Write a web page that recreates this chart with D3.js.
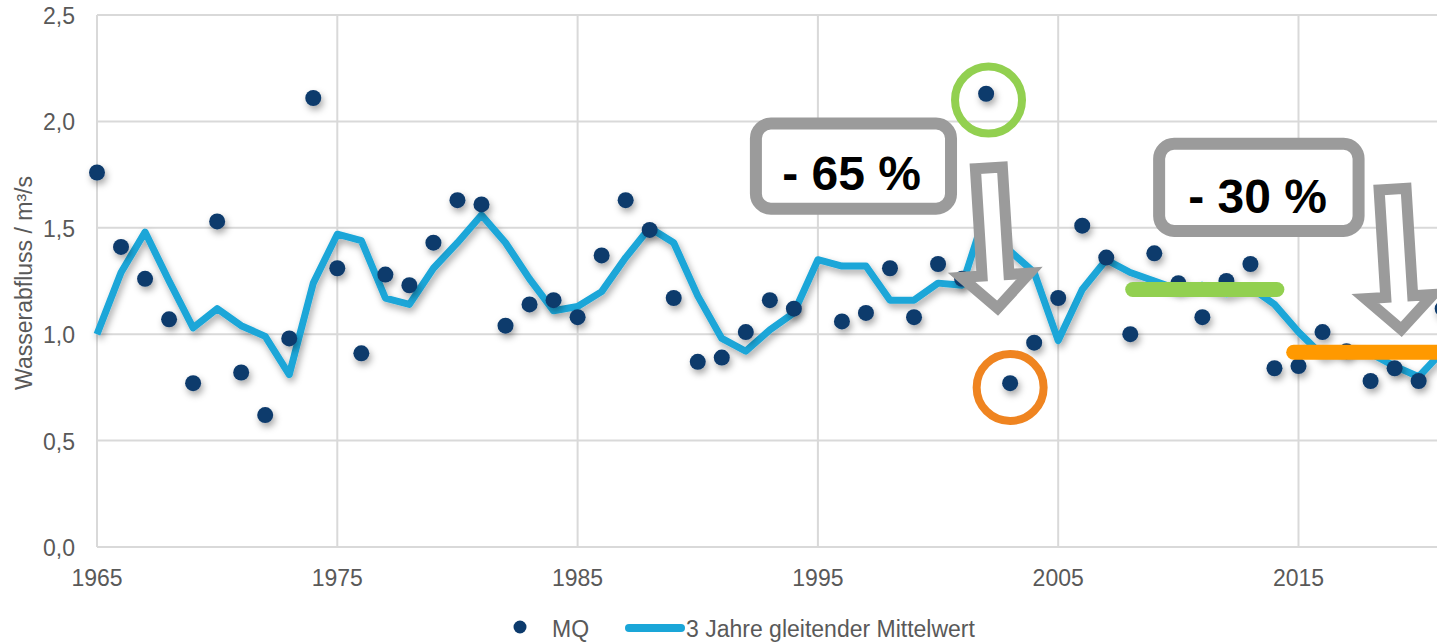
<!DOCTYPE html>
<html>
<head>
<meta charset="utf-8">
<script src="https://cdn.jsdelivr.net/npm/d3@7"></script>
<style>
  html, body { margin: 0; padding: 0; background: #fff; overflow: hidden; }
  svg { display: block; font-family: "Liberation Sans", Arial, sans-serif; }
</style>
</head>
<body>
<div id="chart"></div>
<script>
// data
var years = d3.range(1965, 2022);
var mq = [
  1.76, 1.41, 1.26, 1.07, 0.77, 1.53, 0.82, 0.62, 0.98, 2.11,
  1.31, 0.91, 1.28, 1.23, 1.43, 1.63, 1.61, 1.04, 1.14, 1.16,
  1.08, 1.37, 1.63, 1.49, 1.17, 0.87, 0.89, 1.01, 1.16, 1.12,
  null, 1.06, 1.10, 1.31, 1.08, 1.33, 1.26, 2.13, 0.77, 0.96,
  1.17, 1.51, 1.36, 1.00, 1.38, 1.24, 1.08, 1.25, 1.33, 0.84,
  0.85, 1.01, 0.92, 0.78, 0.84, 0.78, 1.12
];
var mittel = [
  1.00, 1.29, 1.48, 1.25, 1.03, 1.12, 1.04, 0.99, 0.81, 1.24,
  1.47, 1.44, 1.17, 1.14, 1.31, 1.43, 1.56, 1.43, 1.26, 1.11,
  1.13, 1.20, 1.36, 1.50, 1.43, 1.18, 0.98, 0.92, 1.02, 1.10,
  1.35, 1.32, 1.32, 1.16, 1.16, 1.24, 1.23, 1.58, 1.39, 1.29,
  0.97, 1.21, 1.35, 1.29, 1.25, 1.21, 1.23, 1.19, 1.22, 1.14,
  1.01, 0.90, 0.93, 0.91, 0.85, 0.80, 0.92
];
var xTicks = [1965, 1975, 1985, 1995, 2005, 2015];
var xGrid = [1965, 1975, 1985, 1995, 2005, 2015, 2025];
var yTicks = [0, 0.5, 1.0, 1.5, 2.0, 2.5];

// annotations in data units
var levels = [
  { from: 2008.1, to: 2014.1, value: 1.21, color: '#92d050' },
  { from: 2014.8, to: 2023, value: 0.915, color: '#ff9900' }
];
var rings = [
  { year: 2002.1, value: 2.10, color: '#92d050' },
  { year: 2003.0, value: 0.75, color: '#ef8420' }
];
var boxes = [
  { x0: 1992.42, x1: 2000.54, y0: 1.99, y1: 1.59, tx: 1996.4, ty: 1.678, label: '- 65 %' },
  { x0: 2009.2, x1: 2017.5, y0: 1.895, y1: 1.485, tx: 2013.3, ty: 1.57, label: '- 30 %' }
];
var arrows = [
  { x0: 2002.1, y0: 1.81, x1: 2002.5, y1: 1.08 },
  { x0: 2018.9, y0: 1.71, x1: 2019.3, y1: 0.98 }
];

var width = 1437, height = 642;
var x = d3.scaleLinear().domain([1965, 2025]).range([97, 97 + 60 * 24.03]);
var y = d3.scaleLinear().domain([0, 2.5]).range([547, 15]);
var fs = 23, textColor = '#595959';

var svg = d3.select('#chart').append('svg')
    .attr('width', width)
    .attr('height', height);

var defs = svg.append('defs');
var shadow = defs.append('filter').attr('id', 'shadow')
    .attr('x', '-20%').attr('y', '-20%').attr('width', '140%').attr('height', '140%');
shadow.append('feDropShadow')
    .attr('dx', 2).attr('dy', 4).attr('stdDeviation', 3.5)
    .attr('flood-color', '#000').attr('flood-opacity', 0.35);

// grid
svg.append('g').selectAll('line.h')
    .data(yTicks)
    .enter().append('line')
    .attr('x1', x(1965)).attr('x2', width)
    .attr('y1', function (d) { return y(d); })
    .attr('y2', function (d) { return y(d); })
    .attr('stroke', '#d9d9d9').attr('stroke-width', 2);

svg.append('g').selectAll('line.v')
    .data(xGrid)
    .enter().append('line')
    .attr('x1', function (d) { return x(d); })
    .attr('x2', function (d) { return x(d); })
    .attr('y1', y(2.5)).attr('y2', y(0))
    .attr('stroke', '#d9d9d9').attr('stroke-width', 2);

// tick labels
svg.append('g').selectAll('text')
    .data(yTicks)
    .enter().append('text')
    .attr('x', 75)
    .attr('y', function (d) { return y(d) + 9; })
    .attr('text-anchor', 'end')
    .attr('font-size', fs)
    .attr('fill', textColor)
    .text(function (d) { return d3.format('.1f')(d).replace('.', ','); });

svg.append('g').selectAll('text')
    .data(xTicks)
    .enter().append('text')
    .attr('x', function (d) { return x(d); })
    .attr('y', 586)
    .attr('text-anchor', 'middle')
    .attr('font-size', fs)
    .attr('fill', textColor)
    .text(function (d) { return d; });

svg.append('text')
    .attr('transform', 'translate(32,283) rotate(-90)')
    .attr('text-anchor', 'middle')
    .attr('font-size', fs)
    .attr('fill', textColor)
    .text('Wasserabfluss / m³/s');

// moving average
var line = d3.line()
    .defined(function (d) { return d[1] != null; })
    .x(function (d) { return x(d[0]); })
    .y(function (d) { return y(d[1]); });

svg.append('path')
    .datum(years.map(function (yr, i) { return [yr, mittel[i]]; }))
    .attr('d', line)
    .attr('fill', 'none')
    .attr('stroke', '#1aa6d8')
    .attr('stroke-width', 7)
    .attr('stroke-linejoin', 'round')
    .attr('filter', 'url(#shadow)');

// MQ points
svg.append('g').attr('filter', 'url(#shadow)')
    .selectAll('circle')
    .data(years.map(function (yr, i) { return [yr, mq[i]]; })
      .filter(function (d) { return d[1] != null; }))
    .enter().append('circle')
    .attr('cx', function (d) { return x(d[0]); })
    .attr('cy', function (d) { return y(d[1]); })
    .attr('r', 8)
    .attr('fill', '#0c3a6c');

// level bars
svg.append('g').selectAll('line')
    .data(levels)
    .enter().append('line')
    .attr('x1', function (d) { return x(d.from); })
    .attr('x2', function (d) { return x(d.to); })
    .attr('y1', function (d) { return y(d.value); })
    .attr('y2', function (d) { return y(d.value); })
    .attr('stroke', function (d) { return d.color; })
    .attr('stroke-width', 15)
    .attr('stroke-linecap', 'round');

// rings
svg.append('g').selectAll('circle')
    .data(rings)
    .enter().append('circle')
    .attr('cx', function (d) { return x(d.year); })
    .attr('cy', function (d) { return y(d.value); })
    .attr('r', 33.5)
    .attr('fill', 'none')
    .attr('stroke', function (d) { return d.color; })
    .attr('stroke-width', 8);

// boxes
var box = svg.append('g').selectAll('g')
    .data(boxes)
    .enter().append('g');

box.append('rect')
    .attr('x', function (d) { return x(d.x0); })
    .attr('y', function (d) { return y(d.y0); })
    .attr('width', function (d) { return x(d.x1) - x(d.x0); })
    .attr('height', function (d) { return y(d.y1) - y(d.y0); })
    .attr('rx', 15)
    .attr('fill', '#fff')
    .attr('stroke', '#9b9b9b')
    .attr('stroke-width', 12);

box.append('text')
    .attr('x', function (d) { return x(d.tx); })
    .attr('y', function (d) { return y(d.ty); })
    .attr('text-anchor', 'middle')
    .attr('font-size', 48)
    .attr('font-weight', 'bold')
    .attr('fill', '#000')
    .text(function (d) { return d.label; });

// hollow arrows
svg.append('g').selectAll('path')
    .data(arrows)
    .enter().append('path')
    .attr('transform', function (d) {
      var dx = x(d.x1) - x(d.x0), dy = y(d.y1) - y(d.y0);
      var ang = -Math.atan2(dx, dy) * 180 / Math.PI;
      return 'translate(' + x(d.x0) + ',' + y(d.y0) + ') rotate(' + ang + ')';
    })
    .attr('d', function (d) {
      var dx = x(d.x1) - x(d.x0), dy = y(d.y1) - y(d.y0);
      var len = Math.sqrt(dx * dx + dy * dy);
      var t = len - 9, hb = t - 33;
      return 'M-13.5,6 L13.5,6 L13.5,' + hb + ' L34,' + hb + ' L0,' + t +
        ' L-34,' + hb + ' L-13.5,' + hb + ' Z';
    })
    .attr('fill', '#fff')
    .attr('stroke', '#9b9b9b')
    .attr('stroke-width', 11)
    .attr('stroke-linejoin', 'miter');

// legend
var legend = svg.append('g');
legend.append('circle')
    .attr('cx', 520).attr('cy', 627).attr('r', 6.5)
    .attr('fill', '#0c3a6c');
legend.append('text')
    .attr('x', 552).attr('y', 637)
    .attr('font-size', fs).attr('fill', textColor)
    .text('MQ');
legend.append('line')
    .attr('x1', 629).attr('x2', 681)
    .attr('y1', 628).attr('y2', 628)
    .attr('stroke', '#1aa6d8').attr('stroke-width', 8)
    .attr('stroke-linecap', 'round');
legend.append('text')
    .attr('x', 686).attr('y', 637)
    .attr('font-size', fs).attr('fill', textColor)
    .text('3 Jahre gleitender Mittelwert');
</script>
</body>
</html>
